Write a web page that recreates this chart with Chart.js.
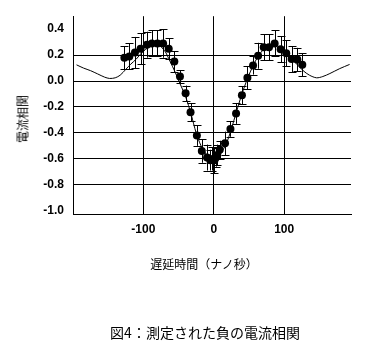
<!DOCTYPE html>
<html>
<head>
<meta charset="utf-8">
<script src="https://cdn.jsdelivr.net/npm/chart.js@4/dist/chart.umd.min.js"></script>
<style>
  body { margin: 0; background: #fff; }
  #wrap { position: relative; width: 369px; height: 355px; }
  .jp { position: absolute; font-family: "Noto Sans CJK JP", sans-serif; color: #000; white-space: nowrap; }
  #ytitle { left: 22px; top: 119px; font-size: 12px; transform: translate(-50%, -50%) rotate(-90deg); }
  #xtitle { left: 204px; top: 263px; font-size: 12px; transform: translate(-50%, -50%); }
  #caption { left: 205px; top: 332px; font-size: 14px; transform: translate(-50%, -50%); }
</style>
</head>
<body>
<div id="wrap">
  <canvas id="grafico" width="369" height="355"></canvas>
  <div class="jp" id="ytitle">電流相関</div>
  <div class="jp" id="xtitle">遅延時間（ナノ秒）</div>
  <div class="jp" id="caption">図4：測定された負の電流相関</div>
</div>
<script>
// dados medidos (atraso em ns, correlação, erro)
const atrasos = [-127, -120, -112, -104, -95, -88, -80, -72, -64, -56, -48, -40, -33, -24, -17, -9.5, -5, -2, 1, 3, 5, 8.5, 16, 23.7, 31.7, 40, 47.8, 55.8, 63, 71, 78.5, 86.5, 95, 103, 110.6, 118.7, 125.8];
const correlacao = [0.18, 0.19, 0.22, 0.25, 0.28, 0.29, 0.29, 0.29, 0.25, 0.15, 0.035, -0.095, -0.24, -0.42, -0.54, -0.59, -0.61, -0.60, -0.61, -0.59, -0.57, -0.53, -0.48, -0.37, -0.25, -0.11, 0.025, 0.12, 0.195, 0.26, 0.26, 0.29, 0.245, 0.215, 0.17, 0.166, 0.126];
const erros = [0.09, 0.1, 0.12, 0.12, 0.1, 0.1, 0.1, 0.11, 0.08, 0.08, 0.05, 0.06, 0.07, 0.08, 0.09, 0.1, 0.08, 0.09, 0.1, 0.07, 0.08, 0.07, 0.09, 0.06, 0.08, 0.07, 0.09, 0.07, 0.1, 0.1, 0.1, 0.1, 0.1, 0.1, 0.1, 0.09, 0.09];

// curva teórica
const curvaX = [-195, -185, -175, -165, -155, -148, -140, -133, -125, -118, -110, -102, -91, -80, -70, -62, -55, -48, -40, -32, -25, -18, -10, -4, 0, 4, 10, 18, 25, 32, 40, 48, 56, 63, 72, 80, 88, 96, 104, 112, 120, 127, 136, 146, 155, 165, 179, 193];
const curvaY = [0.125, 0.10, 0.08, 0.055, 0.03, 0.02, 0.025, 0.045, 0.09, 0.13, 0.17, 0.22, 0.265, 0.28, 0.235, 0.15, 0.07, -0.02, -0.12, -0.26, -0.40, -0.50, -0.57, -0.61, -0.62, -0.61, -0.56, -0.48, -0.37, -0.24, -0.10, 0.02, 0.12, 0.19, 0.25, 0.27, 0.27, 0.24, 0.20, 0.16, 0.12, 0.08, 0.045, 0.025, 0.035, 0.058, 0.096, 0.128];

const ticksY = [-1.0, -0.8, -0.6, -0.4, -0.2, 0.0, 0.2, 0.4];
const ticksX = [-100, 0, 100];
const linhasY = [-0.8, -0.6, -0.4, -0.2, 0.0, 0.2];

// barras de erro desenhadas com as escalas do próprio Chart.js
const barrasErro = {
  id: "barrasErro",
  afterDatasetsDraw(chart) {
    const ctx = chart.ctx;
    const sx = chart.scales.x, sy = chart.scales.y;
    ctx.save();
    ctx.strokeStyle = "#000";
    ctx.lineWidth = 1;
    atrasos.forEach((a, i) => {
      const px = Math.round(sx.getPixelForValue(a)) + 0.5;
      const top = sy.getPixelForValue(correlacao[i] + erros[i]);
      const bot = sy.getPixelForValue(correlacao[i] - erros[i]);
      ctx.beginPath();
      ctx.moveTo(px, top); ctx.lineTo(px, bot);
      ctx.moveTo(px - 4, Math.round(top) + 0.5); ctx.lineTo(px + 4, Math.round(top) + 0.5);
      ctx.moveTo(px - 4, Math.round(bot) + 0.5); ctx.lineTo(px + 4, Math.round(bot) + 0.5);
      ctx.stroke();
    });
    ctx.restore();
  }
};

const fonteTicks = { family: "'Liberation Sans', Arial, sans-serif", size: 12, weight: "bold" };

new Chart(document.getElementById("grafico"), {
  type: "scatter",
  data: {
    datasets: [
      {
        label: "teoria",
        data: curvaX.map((x, i) => ({ x: x, y: curvaY[i] })),
        showLine: true,
        borderColor: "#000",
        borderWidth: 1,
        pointRadius: 0,
        tension: 0.3,
        order: 2
      },
      {
        label: "medido",
        data: atrasos.map((x, i) => ({ x: x, y: correlacao[i] })),
        showLine: false,
        pointRadius: 4,
        pointBorderWidth: 0,
        pointBackgroundColor: "#000",
        order: 1
      }
    ]
  },
  options: {
    responsive: false,
    animation: false,
    layout: { padding: { top: 15, right: 18, left: 0, bottom: 0 } },
    plugins: { legend: { display: false }, tooltip: { enabled: false } },
    scales: {
      x: {
        type: "linear",
        min: -200, max: 195,
        afterFit: (s) => { s.height = 141; },
        afterBuildTicks: (s) => { s.ticks = ticksX.map(v => ({ value: v })); },
        ticks: { font: fonteTicks, color: "#000", padding: 8, maxRotation: 0,
                 callback: (v) => String(v) },
        grid: { color: "#000", lineWidth: 1, drawTicks: false },
        border: { color: "#000", width: 1 }
      },
      y: {
        type: "linear",
        min: -1.025, max: 0.5,
        afterFit: (s) => { s.width = 73; },
        afterBuildTicks: (s) => { s.ticks = ticksY.map(v => ({ value: v })); },
        ticks: { font: fonteTicks, color: "#000", padding: 9,
                 callback: (v) => Number(v).toFixed(1) },
        grid: {
          drawTicks: false,
          lineWidth: 1,
          color: (c) => linhasY.some(v => Math.abs(v - c.tick.value) < 1e-6) ? "#000" : "rgba(0,0,0,0)"
        },
        border: { color: "#000", width: 1 }
      }
    }
  },
  plugins: [barrasErro]
});
</script>
</body>
</html>
